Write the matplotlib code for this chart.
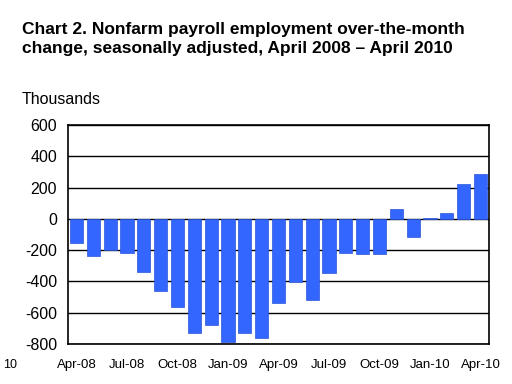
import matplotlib.pyplot as plt

plt.rcParams['font.family'] = ['Liberation Sans', 'DejaVu Sans']

months = ['Apr-08', 'May-08', 'Jun-08', 'Jul-08', 'Aug-08', 'Sep-08', 'Oct-08',
          'Nov-08', 'Dec-08', 'Jan-09', 'Feb-09', 'Mar-09', 'Apr-09', 'May-09',
          'Jun-09', 'Jul-09', 'Aug-09', 'Sep-09', 'Oct-09', 'Nov-09', 'Dec-09',
          'Jan-10', 'Feb-10', 'Mar-10', 'Apr-10']
change = [-153, -238, -200, -219, -340, -462, -564, -730, -679, -787, -730,
          -764, -538, -402, -519, -347, -219, -225, -225, 64, -117, 6, 40,
          226, 289]
yticks = [-800, -600, -400, -200, 0, 200, 400, 600]

fig = plt.figure(figsize=(5.12, 3.84), dpi=100)
ax = fig.add_axes([68 / 512, 1 - 344 / 384, 421 / 512, 219 / 384])

x = list(range(len(months)))
ax.bar(x, change, width=0.78, color='#3366ff', edgecolor='#2b55d8',
       linewidth=0.5, zorder=3)

ax.set_ylim(-800, 600)
ax.set_xlim(-0.5, len(months) - 0.5)
ax.set_yticks(yticks)
ax.set_yticklabels([str(v) for v in yticks], fontsize=11.5)
ax.yaxis.grid(True, color='black', linewidth=1.0, zorder=1)
ax.set_xticks(x[::3])
ax.set_xticklabels(months[::3], fontsize=9.5)
ax.tick_params(length=0, pad=8)
ax.tick_params(axis='x', pad=11)
for s in ax.spines.values():
    s.set_color('black')
    s.set_linewidth(1.2)

fig.text(22 / 512, 1 - 53 / 384,
         'Chart 2. Nonfarm payroll employment over-the-month\n'
         'change, seasonally adjusted, April 2008 \u2013 April 2010',
         fontsize=12.5, fontweight='bold', va='baseline', linespacing=1.3)
fig.text(22 / 512, 1 - 104 / 384, 'Thousands', fontsize=11.5, va='baseline')
fig.text(3 / 512, 1 - 368 / 384, '10', fontsize=9, va='baseline')

fig.savefig('out.png', dpi=100)
